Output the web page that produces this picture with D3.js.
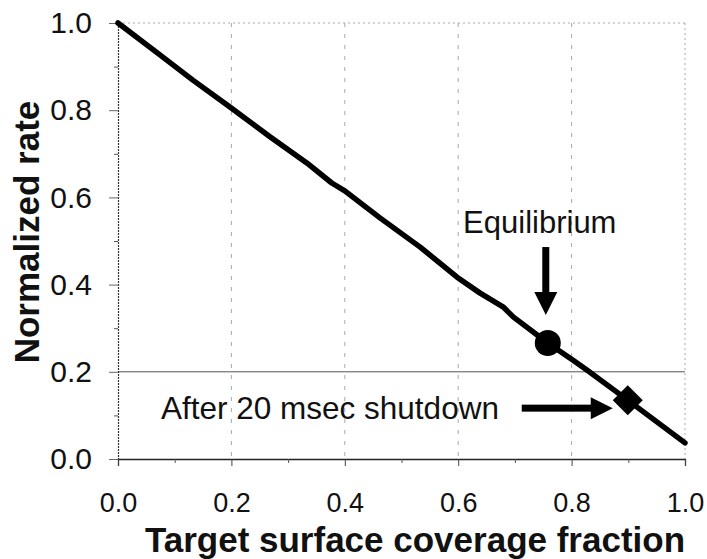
<!DOCTYPE html>
<html>
<head>
<meta charset="utf-8">
<script src="https://cdn.jsdelivr.net/npm/d3@7"></script>
<style>
  html, body { margin: 0; padding: 0; background: #fff; }
  svg { display: block; font-family: "Liberation Sans", Arial, sans-serif; }
</style>
</head>
<body>
<svg id="chart" width="707" height="559"></svg>
<script>
// Rate curve: normalized rate versus target surface coverage fraction
const coverage = [0, 0.074, 0.132, 0.198, 0.268, 0.333, 0.377, 0.400, 0.462, 0.533,
                  0.598, 0.638, 0.679, 0.697, 0.758, 0.802, 0.827, 0.899, 1.0];
const rate     = [1.0, 0.927, 0.869, 0.807, 0.739, 0.679, 0.633, 0.615, 0.553, 0.486,
                  0.417, 0.381, 0.349, 0.326, 0.266, 0.227, 0.204, 0.135, 0.037];

// Highlighted operating points
const equilibrium = { x: 0.758, y: 0.266, label: "Equilibrium" };
const shutdown    = { x: 0.899, y: 0.135, label: "After 20 msec shutdown" };

const xTicks = [0, 0.2, 0.4, 0.6, 0.8, 1.0];
const yTicks = [0, 0.2, 0.4, 0.6, 0.8, 1.0];
const minorTicks = [0.1, 0.3, 0.5, 0.7, 0.9];

const xTitle = "Target surface coverage fraction";
const yTitle = "Normalized rate";

const svg = d3.select("#chart");
const plotL = 118, plotR = 685, plotT = 23, plotB = 459;

const x = d3.scaleLinear().domain([0, 1]).range([plotL, plotR]);
const y = d3.scaleLinear().domain([0, 1]).range([plotB, plotT]);

// Grid: faint broken verticals, one horizontal at 0.2, dotted frame
const grid = svg.append("g");
grid.selectAll("line.vg").data(xTicks.slice(1, 5)).enter().append("line")
  .attr("x1", d => x(d)).attr("x2", d => x(d))
  .attr("y1", plotT).attr("y2", plotB)
  .attr("stroke", "#a8a8a8").attr("stroke-width", 1)
  .attr("stroke-dasharray", "4,7");
grid.append("line")
  .attr("x1", plotL).attr("x2", plotR).attr("y1", y(0.2)).attr("y2", y(0.2))
  .attr("stroke", "#555").attr("stroke-width", 1);
grid.append("line")
  .attr("x1", plotL).attr("x2", plotR).attr("y1", plotT).attr("y2", plotT)
  .attr("stroke", "#aaa").attr("stroke-width", 1).attr("stroke-dasharray", "2,3");
grid.append("line")
  .attr("x1", plotR).attr("x2", plotR).attr("y1", plotT).attr("y2", plotB)
  .attr("stroke", "#aaa").attr("stroke-width", 1).attr("stroke-dasharray", "2,3");

// Axes
const xAxis = svg.append("g").attr("transform", `translate(0,${plotB})`)
  .call(d3.axisBottom(x).tickValues(xTicks).tickFormat(d3.format(".1f"))
        .tickSize(7).tickPadding(27));
xAxis.select(".domain").attr("stroke", "#222").attr("stroke-width", 1.3);
xAxis.selectAll(".tick line").attr("stroke", "#444");
xAxis.selectAll(".tick text").attr("font-size", 27).attr("fill", "#111")
  .attr("font-family", "Liberation Sans, Arial, sans-serif");

svg.append("g").attr("transform", `translate(0,${plotB})`)
  .call(d3.axisBottom(x).tickValues(minorTicks).tickFormat("").tickSize(4))
  .call(g => g.select(".domain").remove())
  .selectAll(".tick line").attr("stroke", "#555");

const yAxis = svg.append("g").attr("transform", `translate(${plotL},0)`)
  .call(d3.axisLeft(y).tickValues(yTicks).tickFormat(d3.format(".1f"))
        .tickSize(9).tickPadding(17));
yAxis.select(".domain").attr("stroke", "#333").attr("stroke-width", 1.2)
  .attr("stroke-dasharray", "2,1");
yAxis.selectAll(".tick line").attr("stroke", "#666");
yAxis.selectAll(".tick text").attr("font-size", 30).attr("fill", "#111")
  .attr("font-family", "Liberation Sans, Arial, sans-serif");

svg.append("g").attr("transform", `translate(${plotL},0)`)
  .call(d3.axisLeft(y).tickValues(minorTicks).tickFormat("").tickSize(4))
  .call(g => g.select(".domain").remove())
  .selectAll(".tick line").attr("stroke", "#555");

// Axis titles
svg.append("text")
  .attr("x", 415).attr("y", 552)
  .attr("text-anchor", "middle").attr("font-size", 35).attr("font-weight", "bold")
  .attr("fill", "#111").text(xTitle);
svg.append("text")
  .attr("transform", "translate(39,232) rotate(-90)")
  .attr("text-anchor", "middle").attr("font-size", 35).attr("font-weight", "bold")
  .attr("fill", "#111").text(yTitle);

// Curve
const pts = coverage.map((c, i) => [c, rate[i]]);
svg.append("path").datum(pts)
  .attr("d", d3.line().x(d => x(d[0])).y(d => y(d[1])))
  .attr("fill", "none").attr("stroke", "#000").attr("stroke-width", 5.5)
  .attr("stroke-linejoin", "round").attr("stroke-linecap", "round");

// Markers
svg.append("circle")
  .attr("cx", x(equilibrium.x)).attr("cy", y(equilibrium.y)).attr("r", 13)
  .attr("fill", "#000");
svg.append("path")
  .attr("d", d3.symbol().type(d3.symbolSquare).size(450)())
  .attr("transform", `translate(${x(shutdown.x)},${y(shutdown.y)}) rotate(45)`)
  .attr("fill", "#000");

// Annotation arrows and labels
const ex = x(equilibrium.x) - 2, ey = y(equilibrium.y);
const eTip = ey - 28;
svg.append("rect").attr("x", ex - 3.5).attr("y", eTip - 68).attr("width", 7).attr("height", 46)
  .attr("fill", "#000");
svg.append("path")
  .attr("d", `M${ex - 11.5},${eTip - 23} L${ex + 11.5},${eTip - 23} L${ex},${eTip} Z`)
  .attr("fill", "#000");
svg.append("text").attr("x", ex - 6).attr("y", eTip - 82)
  .attr("text-anchor", "middle").attr("font-size", 31).attr("fill", "#111")
  .text(equilibrium.label);

const sx = x(shutdown.x), sy = y(shutdown.y) + 8;
const sTip = sx - 15;
svg.append("rect").attr("x", sTip - 91).attr("y", sy - 3.5).attr("width", 70).attr("height", 7)
  .attr("fill", "#000");
svg.append("path")
  .attr("d", `M${sTip - 22},${sy - 11} L${sTip - 22},${sy + 11} L${sTip},${sy} Z`)
  .attr("fill", "#000");
svg.append("text").attr("x", 161).attr("y", sy + 11)
  .attr("text-anchor", "start").attr("font-size", 31.5).attr("fill", "#111")
  .text(shutdown.label);
</script>
</body>
</html>
